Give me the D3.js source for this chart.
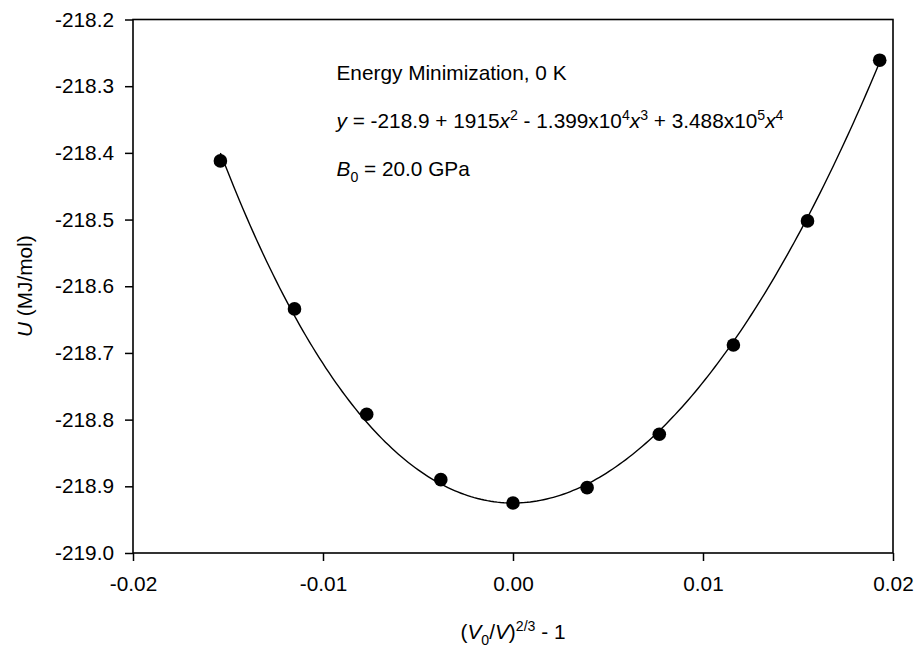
<!DOCTYPE html>
<html>
<head>
<meta charset="utf-8">
<script src="https://cdn.jsdelivr.net/npm/d3@7"></script>
<style>
  html, body { margin: 0; padding: 0; background: #fff; }
  svg { display: block; font-family: "Liberation Sans", Arial, sans-serif; }
</style>
</head>
<body>
<svg id="chart" width="920" height="648"></svg>
<script>
// Lattice strain (V0/V)^(2/3) - 1 and lattice energy (MJ/mol)
const strain = [-0.0154, -0.0115, -0.0077, -0.0038, 0.0000, 0.0039, 0.0077, 0.0116, 0.0155, 0.0193];
const energy = [-218.412, -218.634, -218.792, -218.890, -218.925, -218.902, -218.822, -218.688, -218.502, -218.261];

// Polynomial fit: constant, x^2, x^3, x^4 terms
const fitPowers = [0, 2, 3, 4];
const fitCoefs = [-218.925, 1915, -13990, 348800];
const bulkModulus = 20.0; // GPa

const xTicks = [-0.02, -0.01, 0.00, 0.01, 0.02];
const yTicks = [-219.0, -218.9, -218.8, -218.7, -218.6, -218.5, -218.4, -218.3, -218.2];
const annotationTitle = "Energy Minimization, 0 K";

const W = 920, H = 648;
const margin = { top: 19.5, right: 27, bottom: 95, left: 133 };
const FS = 20.8;

// Plain hyphen for negative numbers
const loc = d3.formatLocale({ decimal: ".", thousands: ",", grouping: [3], currency: ["", ""], minus: "-" });
const fmt = spec => loc.format(spec);

const svg = d3.select("#chart");
const x = d3.scaleLinear().domain([-0.02, 0.02]).range([margin.left, W - margin.right]);
const y = d3.scaleLinear().domain([-219.0, -218.2]).range([H - margin.bottom, margin.top]);

// Axes with outward ticks
const xAxis = svg.append("g")
  .attr("transform", `translate(0,${H - margin.bottom})`)
  .call(d3.axisBottom(x).tickValues(xTicks).tickFormat(fmt(".2f")).tickSize(8).tickSizeOuter(0).tickPadding(10));
const yAxis = svg.append("g")
  .attr("transform", `translate(${margin.left},0)`)
  .call(d3.axisLeft(y).tickValues(yTicks).tickFormat(fmt(".1f")).tickSize(8).tickSizeOuter(0).tickPadding(11));

[xAxis, yAxis].forEach(g => {
  g.selectAll("path.domain").remove();
  g.selectAll(".tick line").attr("stroke", "#000").attr("stroke-width", 1.5);
  g.selectAll(".tick text").attr("fill", "#000").style("font-size", FS + "px").style("font-family", "'Liberation Sans', Arial, sans-serif");
});
xAxis.selectAll(".tick text").attr("dy", "0.95em");

// Frame
svg.append("rect")
  .attr("x", x(-0.02)).attr("y", y(-218.2))
  .attr("width", x(0.02) - x(-0.02)).attr("height", y(-219.0) - y(-218.2))
  .attr("fill", "none").attr("stroke", "#000").attr("stroke-width", 1.6);

// Fitted curve over the data range
const fit = v => d3.sum(fitCoefs, (c, i) => c * Math.pow(v, fitPowers[i]));
const [x0, x1] = d3.extent(strain);
const curvePts = d3.range(0, 201).map(i => {
  const v = x0 + (x1 - x0) * i / 200;
  return [v, fit(v)];
});
svg.append("path")
  .datum(curvePts)
  .attr("fill", "none").attr("stroke", "#000").attr("stroke-width", 1.4)
  .attr("d", d3.line().x(d => x(d[0])).y(d => y(d[1])));

// Data points
svg.append("g").selectAll("circle")
  .data(strain.map((s, i) => [s, energy[i]]))
  .join("circle")
  .attr("cx", d => x(d[0])).attr("cy", d => y(d[1]))
  .attr("r", 6.8).attr("fill", "#000");

// Rich text helper: segments {t, it, sup, sub}
function rich(textSel, segs, fs) {
  let shift = 0;
  segs.forEach(s => {
    const target = s.sup ? -0.38 * fs : s.sub ? 0.28 * fs : 0;
    const ts = textSel.append("tspan").text(s.t)
      .attr("dy", target - shift)
      .style("font-size", (s.sup || s.sub ? fs * 0.68 : fs) + "px");
    if (s.it) ts.style("font-style", "italic");
    shift = target;
  });
}

// Annotation block
const ax = 336.5;
svg.append("text").attr("x", ax).attr("y", 80).style("font-size", FS + "px").text(annotationTitle);

function sci(v) {
  const e = Math.floor(Math.log10(Math.abs(v)));
  return { m: fmt(".3f")(Math.abs(v) / Math.pow(10, e)), e: String(e) };
}
const eqSegs = [{ t: "y", it: true }, { t: " = " + fmt(".1f")(fitCoefs[0]) }];
fitCoefs.slice(1).forEach((c, k) => {
  const p = fitPowers[k + 1];
  const sign = c < 0 ? " - " : " + ";
  if (Math.abs(c) < 1e4) {
    eqSegs.push({ t: sign + fmt("d")(Math.abs(c)) });
  } else {
    const s = sci(c);
    eqSegs.push({ t: sign + s.m + "x10" }, { t: s.e, sup: true });
  }
  eqSegs.push({ t: "x", it: true }, { t: String(p), sup: true });
});
rich(svg.append("text").attr("x", ax).attr("y", 128), eqSegs, FS);

rich(svg.append("text").attr("x", ax).attr("y", 176),
  [{ t: "B", it: true }, { t: "0", sub: true }, { t: " = " + fmt(".1f")(bulkModulus) + " GPa" }], FS);

// Axis titles
rich(svg.append("text").attr("x", x(0)).attr("y", 639).attr("text-anchor", "middle"),
  [{ t: "(" }, { t: "V", it: true }, { t: "0", sub: true }, { t: "/" }, { t: "V", it: true }, { t: ")" }, { t: "2/3", sup: true }, { t: " - 1" }], FS);

rich(svg.append("text")
  .attr("transform", `translate(32,${y(-218.6)}) rotate(-90)`)
  .attr("text-anchor", "middle"),
  [{ t: "U", it: true }, { t: " (MJ/mol)" }], FS);
</script>
</body>
</html>
